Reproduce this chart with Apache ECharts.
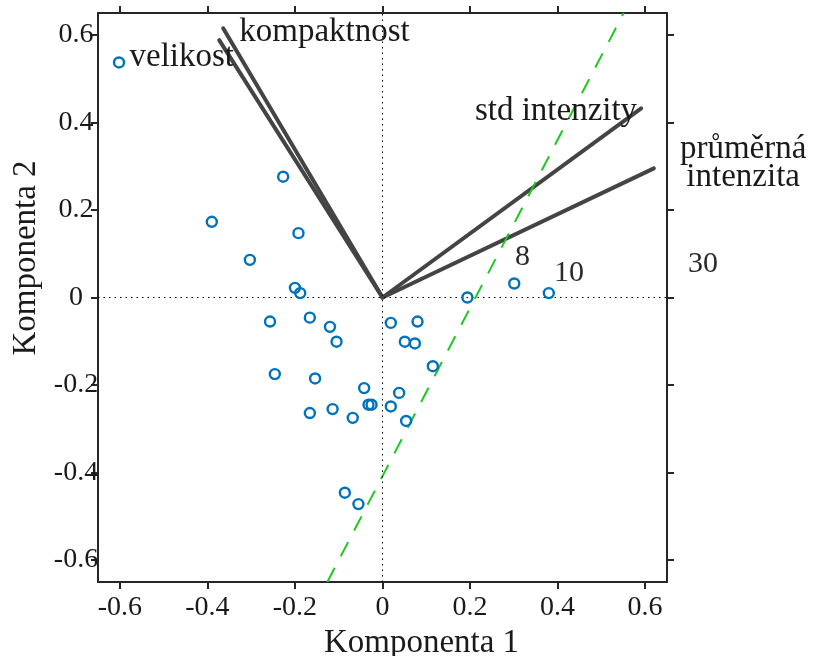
<!DOCTYPE html>
<html>
<head>
<meta charset="utf-8">
<script src="https://cdn.jsdelivr.net/npm/echarts@6/dist/echarts.min.js"></script>
<style>
  html, body { margin: 0; padding: 0; background: #fff; }
  #chart { width: 814px; height: 656px; }
</style>
</head>
<body>
<div id="chart"></div>
<script>
// PCA biplot: observation scores on the first two components
const comp1 = [-0.602, -0.227, -0.390, -0.192, -0.303, -0.200, -0.188, -0.257, -0.166, -0.120,
               -0.105,  0.019,  0.080,  0.051,  0.074,  0.115,  0.194, -0.246, -0.154, -0.042,
                0.038, -0.166, -0.114, -0.068, -0.032, -0.025,  0.019,  0.054,  0.301,  0.380,
               -0.086, -0.055,  0.714];
const comp2 = [ 0.537,  0.276,  0.173,  0.147,  0.086,  0.022,  0.010, -0.055, -0.046, -0.067,
               -0.101, -0.058, -0.055, -0.101, -0.105, -0.157,  0.000, -0.175, -0.185, -0.207,
               -0.218, -0.264, -0.255, -0.275, -0.245, -0.245, -0.249, -0.282,  0.032,  0.010,
               -0.446, -0.472,  0.017];

// observation numbers written next to the outlying points
const obsLabels = ['8', '10', '30'];
const obsLabelX = [0.320, 0.426, 0.732];
const obsLabelY = [0.0925, 0.056, 0.0765];

// variable loadings (vectors from the origin) and their captions
const varNames = ['kompaktnost', 'velikost', 'std intenzity', 'průměrná\nintenzita'];
const varX = [-0.364, -0.373, 0.591, 0.620];
const varY = [0.615, 0.588, 0.432, 0.295];
const varLabelX = [-0.1325, -0.578, 0.3964, 0.824];
const varLabelY = [0.6066, 0.548, 0.4263, 0.3068];
const varLabelAlign = ['center', 'left', 'center', 'center'];

// dashed separating line, given by its two end points
const fitLineX = [-0.126, 0.551];
const fitLineY = [-0.65, 0.65];

const tickValues = [-0.6, -0.4, -0.2, 0, 0.2, 0.4, 0.6];
const axisLimits = [-0.65, 0.65];

const FONT = "'Liberation Serif', 'Times New Roman', serif";
const INK = '#1a1a1a';

function frameAxis(position, withLabels, extra) {
  return Object.assign({
    type: 'value',
    position: position,
    min: axisLimits[0],
    max: axisLimits[1],
    axisLine: { show: true, onZero: false, lineStyle: { color: '#262626', width: 2 } },
    axisTick: { show: true, inside: false, length: 7, customValues: tickValues,
                lineStyle: { color: '#262626', width: 2 } },
    axisLabel: withLabels ? {
      show: true, customValues: tickValues, formatter: v => String(v),
      fontFamily: FONT, fontSize: 28, color: INK
    } : { show: false },
    splitLine: { show: false }
  }, extra || {});
}

const xBottom = frameAxis('bottom', true, {
  name: 'Komponenta 1', nameLocation: 'middle', nameGap: 35,
  nameTextStyle: { fontFamily: FONT, fontSize: 33, color: INK, padding: [0, 0, 0, 78] }
});
xBottom.axisLabel.margin = 12;

const yLeft = frameAxis('left', true, {
  name: 'Komponenta 2', nameLocation: 'middle', nameGap: 55,
  nameTextStyle: { fontFamily: FONT, fontSize: 33, color: INK, padding: [0, 0, 0, 79] }
});
yLeft.axisLabel.align = 'center';
yLeft.axisLabel.margin = 22;

const arrowSeries = varNames.map((n, i) => ({
  type: 'line',
  name: n,
  data: [[0, 0], [varX[i], varY[i]]],
  symbol: 'none',
  silent: true,
  z: 3,
  lineStyle: { color: '#444444', width: 4, cap: 'round' }
}));

const option = {
  backgroundColor: '#ffffff',
  animation: false,
  grid: { left: 98, top: 13, width: 569, height: 569, containLabel: false, outerBoundsMode: 'none' },
  xAxis: [xBottom, frameAxis('top', false)],
  yAxis: [yLeft, frameAxis('right', false)],
  series: [
    ...arrowSeries,
    {
      type: 'line',
      name: 'hranice',
      data: fitLineX.map((x, i) => [x, fitLineY[i]]),
      symbol: 'none',
      silent: true,
      clip: true,
      z: 4,
      lineStyle: { color: '#1ec81e', width: 2, type: [16, 13] }
    },
    {
      type: 'scatter',
      name: 'skóre',
      data: comp1.map((x, i) => [x, comp2[i]]),
      symbol: 'circle',
      symbolSize: 10,
      clip: true,
      z: 5,
      itemStyle: { color: 'rgba(0,0,0,0)', borderColor: '#0072BD', borderWidth: 2.4, opacity: 1 },
      markLine: {
        silent: true,
        symbol: ['none', 'none'],
        label: { show: false },
        lineStyle: { color: '#000', width: 1, type: [1.5, 4], opacity: 1 },
        data: [{ xAxis: 0 }, { yAxis: 0 }]
      }
    },
    {
      type: 'scatter',
      name: 'popisky proměnných',
      data: varNames.map((n, i) => ({
        name: n, value: [varLabelX[i], varLabelY[i]],
        label: { align: varLabelAlign[i] }
      })),
      symbolSize: 0,
      clip: false,
      silent: true,
      z: 6,
      itemStyle: { opacity: 1 },
      label: {
        show: true, position: 'inside', formatter: p => p.name,
        fontFamily: FONT, fontSize: 33, lineHeight: 28, color: INK, opacity: 1
      }
    },
    {
      type: 'scatter',
      name: 'čísla pozorování',
      data: obsLabels.map((n, i) => ({ name: n, value: [obsLabelX[i], obsLabelY[i]] })),
      symbolSize: 0,
      clip: false,
      silent: true,
      z: 6,
      itemStyle: { opacity: 1 },
      label: {
        show: true, position: 'inside', formatter: p => p.name,
        fontFamily: FONT, fontSize: 30, color: '#2a2a2a', opacity: 1
      }
    }
  ]
};

const chart = echarts.init(document.getElementById('chart'), null, { renderer: 'canvas' });
chart.setOption(option);
</script>
</body>
</html>
